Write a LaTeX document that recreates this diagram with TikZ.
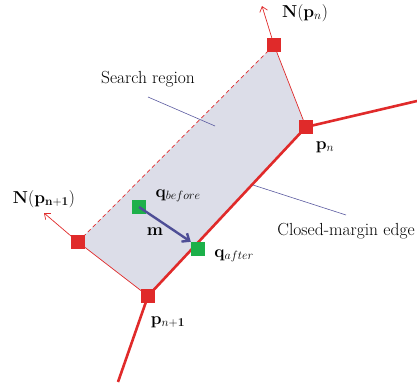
\documentclass[tikz,border=0pt]{standalone}
\usetikzlibrary{arrows.meta}
\definecolor{myred}{HTML}{E02A2A}
\definecolor{mygreen}{HTML}{1DB04A}
\definecolor{regionfill}{HTML}{DCDDE8}
\definecolor{leader}{HTML}{5A5AA0}
\definecolor{marrow}{HTML}{4E4E96}
\tikzset{
  redsq/.style={fill=myred, draw=none, minimum size=14pt, inner sep=0pt},
  greensq/.style={fill=mygreen, draw=none, minimum size=14pt, inner sep=0pt},
  thinred/.style={draw=myred, line width=0.7pt},
  thickred/.style={draw=myred, line width=2.6pt},
  normalarrow/.style={draw=myred, line width=0.7pt, -{Straight Barb[length=5pt,width=8pt]}},
  leaderline/.style={draw=leader, line width=0.6pt},
  lbl/.style={font=\fontsize{17.5}{20}\selectfont, inner sep=1pt},
}
\begin{document}
\begin{tikzpicture}[x=1pt,y=-1pt]
\useasboundingbox (0,0) rectangle (417,388);
% coordinates
\coordinate (T) at (274,45);
\coordinate (Pn) at (306,127);
\coordinate (Pm) at (148,296);
\coordinate (L) at (78,242);
\coordinate (Rend) at (417,101);
\coordinate (Bend) at (118,382);
\coordinate (NnTip) at (262,6);
\coordinate (NmTip) at (44,213);
% region
\fill[regionfill] (T) -- (Pn) -- (Pm) -- (L) -- cycle;
\draw[thinred, dashed, dash pattern=on 4pt off 3pt] (L) -- (T);
\draw[thinred] (T) -- (Pn);
\draw[thinred] (L) -- (Pm);
\draw[thickred] (Rend) -- (Pn) -- (Pm) -- (Bend);
\draw[normalarrow] (T) -- (NnTip);
\draw[normalarrow] (L) -- (NmTip);
% leader lines
\coordinate (SrA) at (148,97);
\coordinate (SrB) at (215,126);
\coordinate (CmA) at (253,185);
\coordinate (CmB) at (346,215);
\draw[leaderline] (SrA) -- (SrB);
\draw[leaderline] (CmA) -- (CmB);
% squares
\node[redsq] (t) at (T) {};
\node[redsq] (pn) at (Pn) {};
\node[redsq] (pm) at (Pm) {};
\node[redsq] (l) at (L) {};
\node[greensq] (qb) at (139,207) {};
\node[greensq] (qa) at (198,249) {};
\draw[marrow, line width=2.4pt, -{Straight Barb[length=6pt,width=10pt]}] (qb.center) -- (qa.north west);
% labels
\node[lbl] (srl) at (148,79) {Search region};
\node[lbl] (cml) at (346,231) {Closed-margin edge};
\node[lbl] (nnl) at (305,13) {$\mathbf{N}(\mathbf{p}_n)$};
\node[lbl] (nml) at (44,199) {$\mathbf{N}(\mathbf{p}_{\mathbf{n+1}})$};
\node[lbl] (pnl) at (325,147) {$\mathbf{p}_n$};
\node[lbl] (pml) at (168,322) {$\mathbf{p}_{n+\mathbf{1}}$};
\node[lbl] (qbl) at (178,196) {$\mathbf{q}_{before}$};
\node[lbl] (qal) at (234,256) {$\mathbf{q}_{after}$};
\node[lbl] (ml) at (155,232) {$\mathbf{m}$};
\end{tikzpicture}
\end{document}
